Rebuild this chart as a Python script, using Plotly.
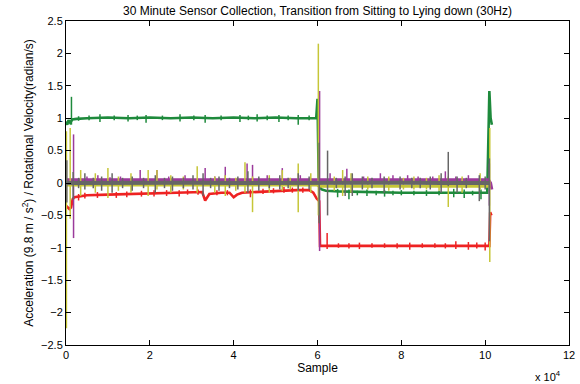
import plotly.graph_objects as go

# ---------------- data (sample index, value) ----------------
green_x = [0, 300, 600, 1000, 1500, 2500, 5000, 10000, 15000, 20000, 25000, 30000, 35000, 40000,
           45000, 50000, 55000, 59700, 60000, 60300, 61000, 62000, 65000, 70000, 75000, 80000,
           85000, 90000, 95000, 100500, 101000, 101300, 101600]
green_y = [0.95, 0.9, 0.97, 0.93, 0.98, 0.99, 1.0, 1.01, 1.0, 1.01, 1.0, 1.01, 1.0, 1.01,
           1.0, 1.01, 1.0, 1.0, 1.3, -0.05, -0.1, -0.12, -0.13, -0.14, -0.15, -0.15,
           -0.15, -0.15, -0.14, -0.15, 1.42, 1.0, 0.9]
green_spikes = [(1300, 0.9, 1.33), (3000, 0.96, 1.03), (5500, 0.97, 1.04), (8100, 0.94, 1.06),
                (11500, 0.97, 1.04), (14800, 0.95, 1.05), (17000, 0.97, 1.04), (19100, 0.93, 1.05),
                (23000, 0.97, 1.04), (27200, 0.95, 1.06), (30500, 0.97, 1.04), (33200, 0.93, 1.05),
                (37000, 0.97, 1.04), (41500, 0.94, 1.05), (43500, 0.97, 1.04), (45600, 0.95, 1.06),
                (48000, 0.97, 1.04), (50800, 0.94, 1.05), (53000, 0.97, 1.04), (55400, 0.9, 1.05),
                (58000, 0.97, 1.04),
                (64800, -0.22, -0.09), (67500, -0.25, -0.1), (69500, -0.19, -0.12), (71800, -0.2, -0.1),
                (74000, -0.19, -0.12), (76000, -0.21, -0.11), (78000, -0.19, -0.12), (80000, -0.19, -0.11),
                (83000, -0.19, -0.12), (86000, -0.2, -0.11), (89000, -0.19, -0.12), (92500, -0.22, -0.09),
                (95000, -0.23, -0.1), (97000, -0.19, -0.12), (99000, -0.25, -0.1)]

red_x = [0, 800, 1200, 1600, 2000, 5000, 10000, 15000, 20000, 25000, 30000, 32500, 33200, 34200,
         37000, 39000, 40000, 40800, 42000, 45000, 48000, 50000, 55000, 58000, 59000, 59800,
         60400, 60600, 70000, 80000, 90000, 101000, 101200, 101500]
red_y = [-0.35, -0.4, -0.38, -0.25, -0.22, -0.19, -0.18, -0.17, -0.16, -0.15, -0.14, -0.14, -0.27, -0.17,
         -0.15, -0.15, -0.22, -0.18, -0.15, -0.14, -0.13, -0.12, -0.11, -0.11, -0.15, -0.24,
         -0.28, -0.97, -0.97, -0.97, -0.97, -0.97, -0.45, -0.5]
red_spikes = [(3000, -0.27, -0.17), (4500, -0.24, -0.15), (7500, -0.23, -0.14), (12000, -0.23, -0.14),
              (14500, -0.22, -0.13), (18000, -0.21, -0.12), (21000, -0.21, -0.11), (24000, -0.2, -0.11),
              (27000, -0.21, -0.11), (29000, -0.18, -0.1), (31500, -0.18, -0.1), (36000, -0.19, -0.11),
              (38500, -0.19, -0.11), (44000, -0.22, -0.1), (47000, -0.17, -0.09), (49500, -0.16, -0.08),
              (52000, -0.15, -0.06), (54000, -0.15, -0.07), (56500, -0.15, -0.07),
              (62300, -1.02, -0.77), (65000, -1.0, -0.93), (67500, -1.01, -0.93), (70000, -1.02, -0.92),
              (73000, -1.0, -0.93), (76000, -1.0, -0.93), (79000, -1.01, -0.93), (82000, -1.03, -0.92),
              (85000, -1.0, -0.93), (88000, -1.0, -0.93), (90500, -1.01, -0.93), (93000, -1.02, -0.9),
              (96000, -1.03, -0.91), (98000, -1.01, -0.92), (100000, -1.04, -0.92)]

purple_x = [0, 1500, 2500, 10000, 20000, 30000, 40000, 50000, 59800, 61000, 70000, 80000, 90000,
            100800, 101300, 101600]
purple_y = [0.05, 0.05, 0.04, 0.04, 0.045, 0.04, 0.045, 0.04, 0.04, 0.05, 0.05, 0.05, 0.05,
            0.05, 0.0, -0.1]
purple_spikes = [(1800, -0.85, 0.75), (5000, 0.0, 0.1), (7600, 0.0, 0.12), (10500, 0.0, 0.09),
                 (13000, 0.0, 0.1), (17700, 0.0, 0.2), (21700, 0.0, 0.2), (24500, 0.0, 0.1),
                 (28400, 0.0, 0.12), (33200, 0.0, 0.23), (35500, 0.0, 0.1), (38000, 0.0, 0.25),
                 (43200, 0.0, 0.3), (44500, 0.0, 0.28), (48000, 0.0, 0.12), (51600, 0.0, 0.23),
                 (55900, 0.0, 0.12), (60500, -1.05, 1.42), (63000, 0.0, 0.15), (67000, 0.0, 0.22),
                 (71000, 0.0, 0.1), (75000, 0.0, 0.15), (78000, 0.0, 0.12), (81500, 0.0, 0.12),
                 (84000, 0.0, 0.1), (87500, 0.0, 0.1), (90500, 0.0, 0.18), (93000, 0.0, 0.1),
                 (96000, 0.0, 0.12), (101000, -0.35, 0.3)]

yellow_x = [0, 2500, 10000, 20000, 30000, 40000, 50000, 59800, 61000, 70000, 80000, 90000, 100800]
yellow_y = [-0.03, -0.03, -0.03, -0.03, -0.03, -0.03, -0.03, -0.03, -0.05, -0.05, -0.05, -0.05, -0.05]
yellow_spikes = [(100, -2.24, 0.8), (1000, -0.55, 0.85), (3500, -0.2, 0.2), (7000, -0.15, 0.15),
                 (10000, -0.23, 0.23), (12500, -0.12, 0.1), (15500, -0.15, 0.15), (19600, -0.2, 0.2),
                 (21700, -0.1, 0.2), (25000, -0.15, 0.12), (28000, -0.1, 0.1), (31300, -0.15, 0.26),
                 (35500, -0.15, 0.1), (38000, -0.2, 0.12), (40500, -0.12, 0.08), (42700, -0.15, 0.32),
                 (44500, -0.45, 0.1), (48500, -0.15, 0.12), (51600, -0.12, 0.2), (53500, -0.1, 0.08),
                 (55400, -0.45, 0.3), (58400, -0.15, 0.15), (60200, -0.5, 2.15), (64000, -0.12, 0.1),
                 (66000, -0.2, 0.2), (68000, -0.15, 0.15), (72000, -0.1, 0.1), (77000, -0.12, 0.1),
                 (80500, -0.1, 0.08), (83000, -0.1, 0.1), (86000, -0.1, 0.08), (89000, -0.12, 0.12),
                 (91200, -0.37, 0.1), (94500, -0.15, 0.1), (98800, -0.1, 0.15), (101100, -1.22, 0.85)]

grey_x = [0, 10000, 20000, 30000, 40000, 50000, 60000, 70000, 80000, 90000, 101000]
grey_y = [0.0, 0.005, 0.0, 0.005, 0.0, 0.005, 0.0, 0.0, 0.005, 0.0, 0.0]
grey_spikes = [(200, -0.3, 0.35), (1700, -0.26, 0.17), (3000, -0.08, 0.08), (4500, -0.1, 0.15),
               (6500, -0.08, 0.08), (8500, -0.12, 0.1), (11000, -0.15, 0.15), (13500, -0.08, 0.08),
               (15800, -0.12, 0.1), (18500, -0.08, 0.08), (21300, -0.15, 0.12), (23500, -0.08, 0.08),
               (25400, -0.12, 0.1), (28000, -0.08, 0.08), (30300, -0.1, 0.12), (32700, -0.2, 0.15),
               (34500, -0.08, 0.08), (36500, -0.12, 0.1), (39000, -0.08, 0.08), (41000, -0.1, 0.1),
               (43400, -0.15, 0.18), (46000, -0.12, 0.1), (48500, -0.08, 0.08), (51000, -0.1, 0.12),
               (53000, -0.08, 0.08), (55400, -0.12, 0.15), (58000, -0.1, 0.1), (60400, -0.62, 0.62),
               (62400, -0.5, 0.5), (64500, -0.08, 0.08), (66600, -0.2, 0.1), (68300, -0.2, 0.15),
               (70700, -0.1, 0.1), (73000, -0.08, 0.08), (75900, -0.15, 0.1), (79700, -0.1, 0.1),
               (82500, -0.08, 0.08), (84500, -0.08, 0.08), (86900, -0.1, 0.1), (89500, -0.15, 0.15),
               (91200, -0.05, 0.48), (93300, -0.15, 0.1), (95500, -0.08, 0.08), (98600, -0.28, 0.12),
               (100000, -0.1, 0.1), (101000, -0.9, 0.38)]

x_tick_vals = [0, 20000, 40000, 60000, 80000, 100000, 120000]
x_tick_text = ["0", "2", "4", "6", "8", "10", "12"]

series = [
    ("green", green_x, green_y, green_spikes, "#1e8a3c", 2.6),
    ("red", red_x, red_y, red_spikes, "#ee2222", 2.6),
    ("purple", purple_x, purple_y, purple_spikes, "#9b3a9b", 3.0),
    ("yellow", yellow_x, yellow_y, yellow_spikes, "#c6c638", 3.0),
    ("grey", grey_x, grey_y, grey_spikes, "#666666", 4.0),
]

fig = go.Figure()
for name, bx, by, spikes, col, bw in series:
    fig.add_trace(go.Scatter(x=bx, y=by, mode="lines", line=dict(color=col, width=bw),
                             showlegend=False, hoverinfo="skip"))
    sx, sy = [], []
    for xv, lo, hi in spikes:
        sx += [xv, xv, None]
        sy += [lo, hi, None]
    fig.add_trace(go.Scatter(x=sx, y=sy, mode="lines", line=dict(color=col, width=1.5),
                             showlegend=False, hoverinfo="skip"))

font_family = "Liberation Sans, Arial, sans-serif"
fig.update_layout(
    width=580, height=384,
    margin=dict(l=66, r=11, t=21, b=39, autoexpand=False),
    plot_bgcolor="white", paper_bgcolor="white",
    font=dict(family=font_family, size=11, color="black"),
    title=dict(text="30 Minute Sensor Collection, Transition from Sitting to Lying down (30Hz)",
               x=(66 + 569) / 2 / 580, xanchor="center", y=1 - 11 / 384, yanchor="middle",
               font=dict(size=12, family=font_family)),
    xaxis=dict(range=[0, 120000], tickvals=x_tick_vals, ticktext=x_tick_text, automargin=False,
               ticks="inside", ticklen=5, tickcolor="black", showline=True, linecolor="black",
               linewidth=1, mirror="ticks", showgrid=False, zeroline=False,
               title=dict(text="Sample", font=dict(size=12), standoff=2)),
    yaxis=dict(range=[-2.5, 2.5], dtick=0.5, tick0=0, automargin=False,
               ticks="inside", ticklen=5, tickcolor="black", showline=True, linecolor="black",
               linewidth=1, mirror="ticks", showgrid=False, zeroline=False,
               title=dict(text="Acceleration (9.8 m / s<sup>2</sup>) / Rotational Velocity(radian/s)",
                          font=dict(size=12), standoff=4)),
    annotations=[dict(text="x 10<sup>4</sup>", xref="paper", yref="paper", x=0.958, y=-0.095,
                      xanchor="center", yanchor="middle", showarrow=False, font=dict(size=11))],
)

fig.write_html("out.html", config={"displayModeBar": False},
               post_script="document.body.style.margin='0';document.body.style.overflow='hidden';")
